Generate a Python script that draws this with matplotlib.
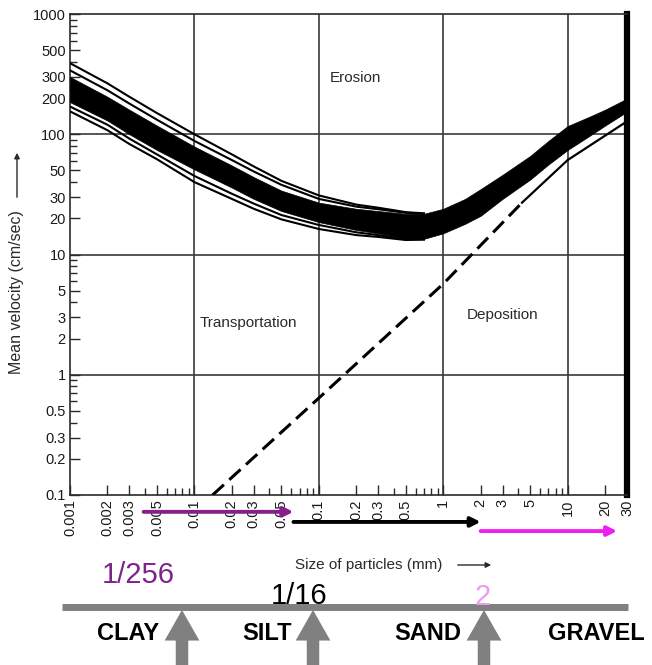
"""
Hjulstrom diagram: erosion / transportation / deposition vs particle size,
with the grain-size classes marked underneath.
"""
import matplotlib
matplotlib.use("Agg")
import matplotlib.pyplot as plt
from matplotlib.ticker import FixedLocator, FixedFormatter, NullFormatter
import matplotlib.transforms as mtransforms

plt.rcParams["font.family"] = ["Liberation Sans", "DejaVu Sans"]

W, H = 652, 665

# ---- data (size in mm, velocity in cm/s) ----
d_core = [0.001, 0.002, 0.003, 0.005, 0.01, 0.02, 0.03, 0.05, 0.1, 0.2,
          0.3, 0.5, 0.7, 1, 1.5, 2, 3, 5, 7, 10, 15, 20, 30]
v_core_top = [300, 205, 160, 118, 79, 55, 44, 34, 27, 24, 23, 21.8, 21.8,
              24, 29, 35, 46, 66, 88, 117, 140, 160, 198]
v_core_bot = [185, 130, 100, 74, 51, 36, 29, 23, 18.6, 16, 15, 13.6, 13.5,
              15, 18, 21, 29, 42, 56, 74, 97, 118, 154]

d_thin = [0.001, 0.002, 0.003, 0.005, 0.01, 0.02, 0.03, 0.05, 0.1, 0.2,
          0.3, 0.5, 0.7]
v_thin_a = [390, 265, 205, 150, 100, 68, 54, 41, 31, 26, 24.5, 22.5, 22]
v_thin_b = [340, 232, 180, 132, 88, 61, 49, 38, 29, 25, 23.8, 22.2, 21.8]
v_thin_c = [170, 120, 92, 68, 45, 32, 26.5, 21.3, 17.6, 15.3, 14.5, 13.4, 13.4]
v_thin_d = [155, 108, 83, 62, 40, 29, 24, 19.6, 16.3, 14.5, 14, 13.2, 13.3]

d_dep_dashed = [0.014, 0.1, 1, 4.3]
v_dep_dashed = [0.1, 0.64, 5.7, 27]
d_dep_solid = [4.3, 10, 30]
v_dep_solid = [27, 61, 128]

grid_x = [0.01, 0.1, 1, 10]
grid_y = [1, 10, 100]

xtick_vals = [0.001, 0.002, 0.003, 0.005, 0.01, 0.02, 0.03, 0.05, 0.1,
              0.2, 0.3, 0.5, 1, 2, 3, 5, 10, 20, 30]
xtick_labels = ["0.001", "0.002", "0.003", "0.005", "0.01", "0.02", "0.03",
                "0.05", "0.1", "0.2", "0.3", "0.5", "1", "2", "3", "5",
                "10", "20", "30"]
xminor_vals = [0.004, 0.006, 0.007, 0.008, 0.009, 0.04, 0.06, 0.07, 0.08,
               0.09, 0.4, 0.6, 0.7, 0.8, 0.9, 4, 6, 7, 8, 9]
ytick_vals = [0.1, 0.2, 0.3, 0.5, 1, 2, 3, 5, 10, 20, 30, 50, 100, 200,
              300, 500, 1000]
ytick_labels = ["0.1", "0.2", "0.3", "0.5", "1", "2", "3", "5", "10", "20",
                "30", "50", "100", "200", "300", "500", "1000"]
yminor_vals = [0.4, 0.6, 0.7, 0.8, 0.9, 4, 6, 7, 8, 9, 40, 60, 70, 80, 90,
               400, 600, 700, 800, 900]

# grain-size class arrows (mm) under the axis
purple_span = [1 / 256, 1 / 16]
black_span = [1 / 16, 2]
magenta_span = [2, 25]

class_names = ["CLAY", "SILT", "SAND", "GRAVEL"]
boundary_labels = ["1/256", "1/16", "2"]


def px(x, y):
    """image pixel (from top-left) -> figure fraction"""
    return x / W, 1 - y / H


fig = plt.figure(figsize=(W / 100, H / 100), dpi=100)
ax = fig.add_axes([70 / W, (H - 495) / H, 557 / W, 481 / H])
ax.set_xscale("log")
ax.set_yscale("log")
ax.set_xlim(0.001, 30)
ax.set_ylim(0.1, 1000)

for g in grid_x:
    ax.axvline(g, color="#3a3a3a", lw=1.2, zorder=1)
for g in grid_y:
    ax.axhline(g, color="#3a3a3a", lw=1.2, zorder=1)

# erosion band
ax.fill_between(d_core, v_core_bot, v_core_top, color="black", lw=0.5, zorder=3)
for v in (v_thin_a, v_thin_b, v_thin_c, v_thin_d):
    ax.plot(d_thin, v, color="black", lw=1.5, zorder=3)

# deposition line
ax.plot(d_dep_dashed, v_dep_dashed, color="black", lw=2.2,
        ls=(0, (5, 2.4)), zorder=3)
ax.plot(d_dep_solid, v_dep_solid, color="black", lw=1.6, zorder=3)

txt_kw = dict(transform=ax.transAxes, ha="center", va="center",
              fontsize=11, color="#2a2a2a")
ax.text(0.512, 0.867, "Erosion", **txt_kw)
ax.text(0.320, 0.358, "Transportation", **txt_kw)
ax.text(0.776, 0.374, "Deposition", **txt_kw)

# axes styling
for s in ("left", "bottom", "top"):
    ax.spines[s].set_linewidth(1.2)
    ax.spines[s].set_color("#2a2a2a")
ax.spines["right"].set_linewidth(4.5)
ax.spines["right"].set_color("black")

ax.xaxis.set_major_locator(FixedLocator(xtick_vals))
ax.xaxis.set_major_formatter(FixedFormatter(xtick_labels))
ax.xaxis.set_minor_locator(FixedLocator(xminor_vals))
ax.xaxis.set_minor_formatter(NullFormatter())
ax.yaxis.set_major_locator(FixedLocator(ytick_vals))
ax.yaxis.set_major_formatter(FixedFormatter(ytick_labels))
ax.yaxis.set_minor_locator(FixedLocator(yminor_vals))
ax.yaxis.set_minor_formatter(NullFormatter())
ax.tick_params(which="both", direction="in", color="#2a2a2a", width=1)
ax.tick_params(which="major", length=7, labelsize=10.5, pad=3,
               labelcolor="#1a1a1a")
ax.tick_params(which="minor", length=5)
ax.tick_params(axis="x", which="major", labelrotation=90)

# axis titles with arrows
fig.text(*px(17, 292), "Mean velocity (cm/sec)", rotation=90,
         ha="center", va="center", fontsize=11.5, color="#2a2a2a")
ax.annotate("", xy=px(17, 150), xytext=px(17, 200), xycoords="figure fraction",
            arrowprops=dict(arrowstyle="-|>", color="#2a2a2a", lw=1,
                            mutation_scale=8))
fig.text(*px(369, 565), "Size of particles (mm)", ha="center", va="center",
         fontsize=11, color="#2a2a2a")
ax.annotate("", xy=px(494, 565), xytext=px(455, 565), xycoords="figure fraction",
            arrowprops=dict(arrowstyle="-|>", color="#2a2a2a", lw=1,
                            mutation_scale=8))

# coloured size-class arrows just under the axis
blend = mtransforms.blended_transform_factory(ax.transData, ax.transAxes)
for span, yf, col in [(purple_span, -0.035, "#861e8c"),
                      (black_span, -0.056, "black"),
                      (magenta_span, -0.075, "#f01ef0")]:
    ax.annotate("", xy=(span[1], yf), xytext=(span[0], yf),
                xycoords=blend, textcoords=blend, annotation_clip=False,
                arrowprops=dict(arrowstyle="-|>", color=col, lw=2.8,
                                mutation_scale=14, shrinkA=0, shrinkB=0))

# class bar at the bottom
fig.add_artist(plt.Line2D([62 / W, 628 / W], [1 - 607 / H] * 2,
                          color="#808080", lw=5, solid_capstyle="butt"))
for xa in (182, 313, 484):
    ax.annotate("", xy=px(xa, 610), xytext=px(xa, 665),
                xycoords="figure fraction", annotation_clip=False,
                arrowprops=dict(arrowstyle="simple,head_length=1.1,head_width=1.25,tail_width=0.45",
                                color="#808080", lw=0, mutation_scale=20,
                                shrinkA=0, shrinkB=0))
for name, xc in zip(class_names, (128, 267, 428, 596)):
    fig.text(*px(xc, 634), name, ha="center", va="center", fontsize=17,
             fontweight="bold", color="black")
for lab, (xc, yc), col in zip(boundary_labels,
                              [(138, 575), (299, 596), (483, 597)],
                              ["#7d2389", "black", "#ee99ee"]):
    fig.text(*px(xc, yc), lab, ha="center", va="center", fontsize=21,
             color=col)

fig.savefig("out.png", dpi=100)
